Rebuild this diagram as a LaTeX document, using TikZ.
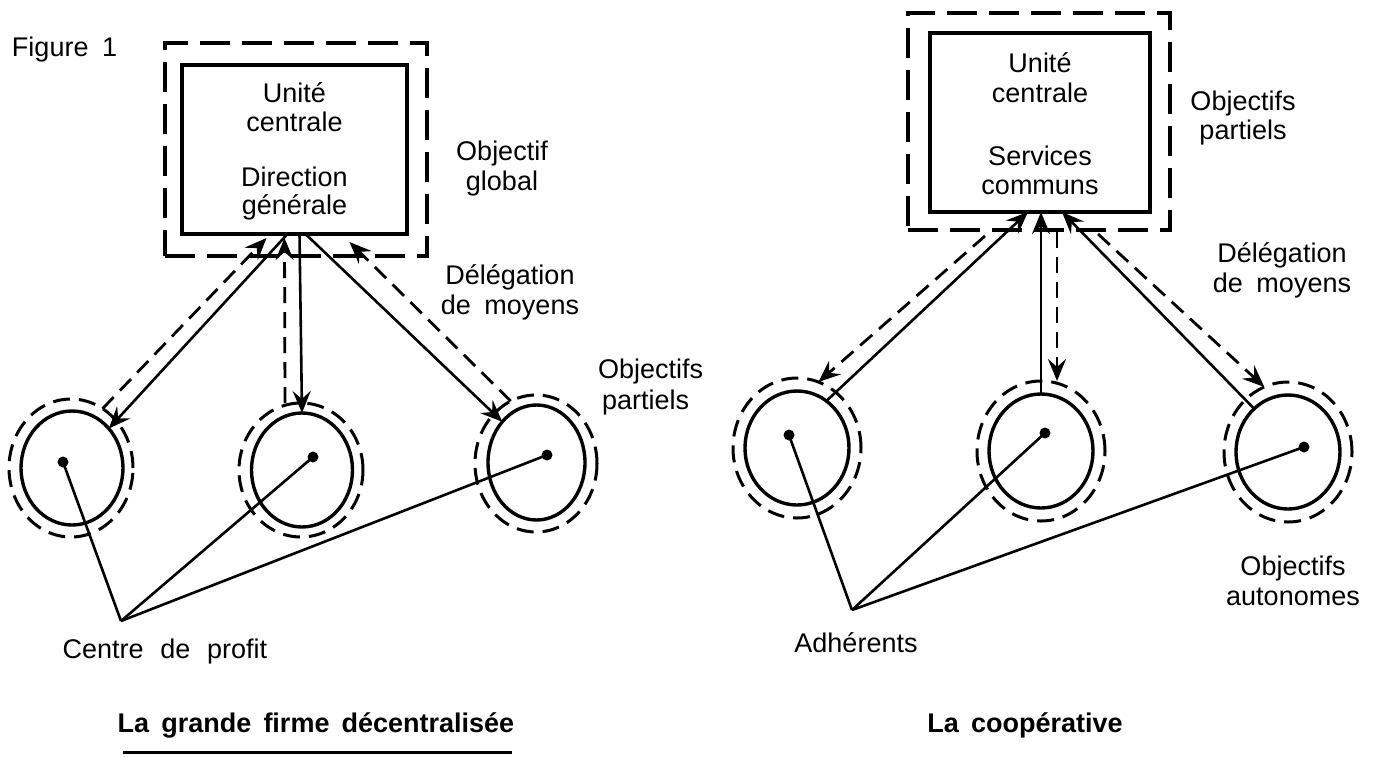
\documentclass[tikz,border=0pt]{standalone}
\usepackage{fontspec}
\setmainfont{Liberation Sans}
\usetikzlibrary{shapes.geometric,arrows.meta}
\newcommand\mylblfont{\fontsize{27}{30}\selectfont\spaceskip 0.5em\relax}
\newcommand\mywidefont{\fontsize{27}{30}\selectfont\spaceskip 0.62em\relax}
\newcommand\myttlfont{\fontsize{27}{30}\selectfont\bfseries\spaceskip 0.45em\relax}
\begin{document}
\begin{tikzpicture}[x=1pt,y=-1pt,
  lbl/.style={font=\mylblfont, anchor=base, inner sep=0pt, outer sep=0pt},
  wlbl/.style={font=\mywidefont, anchor=base, inner sep=0pt, outer sep=0pt},
  ttl/.style={font=\myttlfont, anchor=base, inner sep=0pt},
  inbox/.style={draw, line width=3.4pt, inner sep=0pt, outer sep=0pt},
  outbox/.style={draw, line width=3.2pt, dash pattern=on 30pt off 12pt, inner sep=0pt, outer sep=0pt},
  inell/.style={draw, ellipse, line width=3.4pt, inner sep=0pt, outer sep=0pt},
  outell/.style={draw, ellipse, line width=3pt, dash pattern=on 17pt off 9pt, inner sep=0pt, outer sep=0pt},
  dotn/.style={circle, fill, minimum size=11pt, inner sep=0pt, outer sep=0pt},
  tip/.style={-{Stealth[length=22pt,width=18pt,inset=8pt]}},
  sarr/.style={line width=2.6pt, tip},
  darr/.style={line width=2.8pt, dash pattern=on 16pt off 9pt, tip},
  link/.style={line width=2.6pt}
]
\useasboundingbox (0,0) rectangle (1377,756);
\fill[white] (0,0) rectangle (1377,756);

% ---------------- Left diagram ----------------
\node[lbl, anchor=base west] (fig) at (12,56) {Figure 1};

\node[inbox, minimum width=225pt, minimum height=169pt] (Lbox) at (294.5,149.5) {};
\node[outbox, minimum width=262pt, minimum height=213pt] (Lboxo) at (296,149.5) {};
\node[lbl] (Lt1) at (294.5,102) {Unité};
\node[lbl] (Lt2) at (294.5,131) {centrale};
\node[lbl] (Lt3) at (294.5,186) {Direction};
\node[lbl] (Lt4) at (294.5,214) {générale};

\node[lbl] (Lg1) at (502,160) {Objectif};
\node[lbl] (Lg2) at (502,190) {global};
\node[lbl] (Ld1) at (510,284) {Délégation};
\node[lbl] (Ld2) at (510,314) {de moyens};
\node[lbl, anchor=base west] (Lp1) at (598,378) {Objectifs};
\node[lbl, anchor=base west] (Lp2) at (602,409) {partiels};

\node[inell, minimum width=102pt, minimum height=114pt] (L1) at (72,468) {};
\node[outell, minimum width=124pt, minimum height=138pt] (L1o) at (71,468) {};
\node[inell, minimum width=101pt, minimum height=114pt] (L2) at (302,470) {};
\node[outell, minimum width=124pt, minimum height=134pt] (L2o) at (301,470) {};
\node[inell, minimum width=97pt, minimum height=115pt] (L3) at (536.5,462.5) {};
\node[outell, minimum width=122pt, minimum height=137pt] (L3o) at (536,463.5) {};

\node[dotn] (Lc1) at (63,462) {};
\node[dotn] (Lc2) at (313,457) {};
\node[dotn] (Lc3) at (547,455) {};
\coordinate (Lcp) at (121,621);
\draw[link] (Lcp) -- (Lc1.center);
\draw[link] (Lcp) -- (Lc2.center);
\draw[link] (Lcp) -- (Lc3.center);
\node[wlbl] (Lcdp) at (165,658) {Centre de profit};

% connectors left
\draw[sarr] ([xshift=-7pt]Lbox.south) -- (L1.47);
\draw[darr] (L1o.62) -- ([xshift=-28pt,yshift=-4pt]Lbox.south);
\draw[sarr] ([xshift=5pt]Lbox.south) -- (L2.north);
\draw[darr] ([xshift=-16pt]L2o.north) -- ([xshift=-10pt,yshift=-4pt]Lbox.south);
\draw[sarr] ([xshift=11pt]Lbox.south) -- (L3.130);
\draw[darr] (L3o.112) -- ([xshift=55pt,yshift=-8pt]Lbox.south);

\node[ttl] (Ltitle) at (316,732) {La grande firme décentralisée};
\draw[line width=3pt] (123,752) -- (512,752);

% ---------------- Right diagram ----------------
\node[inbox, minimum width=220pt, minimum height=179pt] (Rbox) at (1040,122.5) {};
\node[outbox, minimum width=262pt, minimum height=217pt] (Rboxo) at (1039,121.5) {};
\node[lbl] (Rt1) at (1040,72) {Unité};
\node[lbl] (Rt2) at (1040,102) {centrale};
\node[lbl] (Rt3) at (1040,165) {Services};
\node[lbl] (Rt4) at (1040,194) {communs};

\node[lbl] (Rp1) at (1243,110) {Objectifs};
\node[lbl] (Rp2) at (1243,139) {partiels};
\node[lbl] (Rd1) at (1282,262) {Délégation};
\node[lbl] (Rd2) at (1282,292) {de moyens};
\node[lbl] (Ra1) at (1293,575) {Objectifs};
\node[lbl] (Ra2) at (1293,605) {autonomes};

\node[inell, minimum width=104pt, minimum height=114pt] (R1) at (797,448) {};
\node[outell, minimum width=128pt, minimum height=140pt] (R1o) at (797,448) {};
\node[inell, minimum width=104pt, minimum height=114pt] (R2) at (1041,451) {};
\node[outell, minimum width=128pt, minimum height=140pt] (R2o) at (1041,451) {};
\node[inell, minimum width=104pt, minimum height=114pt] (R3) at (1288,452) {};
\node[outell, minimum width=128pt, minimum height=140pt] (R3o) at (1288,452) {};

\node[dotn] (Rc1) at (789,435) {};
\node[dotn] (Rc2) at (1045,433) {};
\node[dotn] (Rc3) at (1304,447) {};
\coordinate (Rcp) at (852,610);
\draw[link] (Rcp) -- (Rc1.center);
\draw[link] (Rcp) -- (Rc2.center);
\draw[link] (Rcp) -- (Rc3.center);
\node[lbl] (Radh) at (856,652) {Adhérents};

% connectors right
\draw[sarr] (R1.58) -- ([xshift=-12pt]Rbox.south);
\draw[darr] ([xshift=-55pt,yshift=-24pt]Rbox.south) -- (R1o.72);
\draw[sarr] (R2.north) -- ([xshift=1pt]Rbox.south);
\draw[darr] ([xshift=17pt,yshift=-20pt]Rbox.south) -- ([xshift=16pt]R2o.north);
\draw[sarr] (R3.128) -- ([xshift=22pt]Rbox.south);
\draw[darr] ([xshift=58pt,yshift=-22pt]Rbox.south) -- (R3o.110);

\node[ttl] (Rtitle) at (1025,732) {La coopérative};
\end{tikzpicture}
\end{document}
